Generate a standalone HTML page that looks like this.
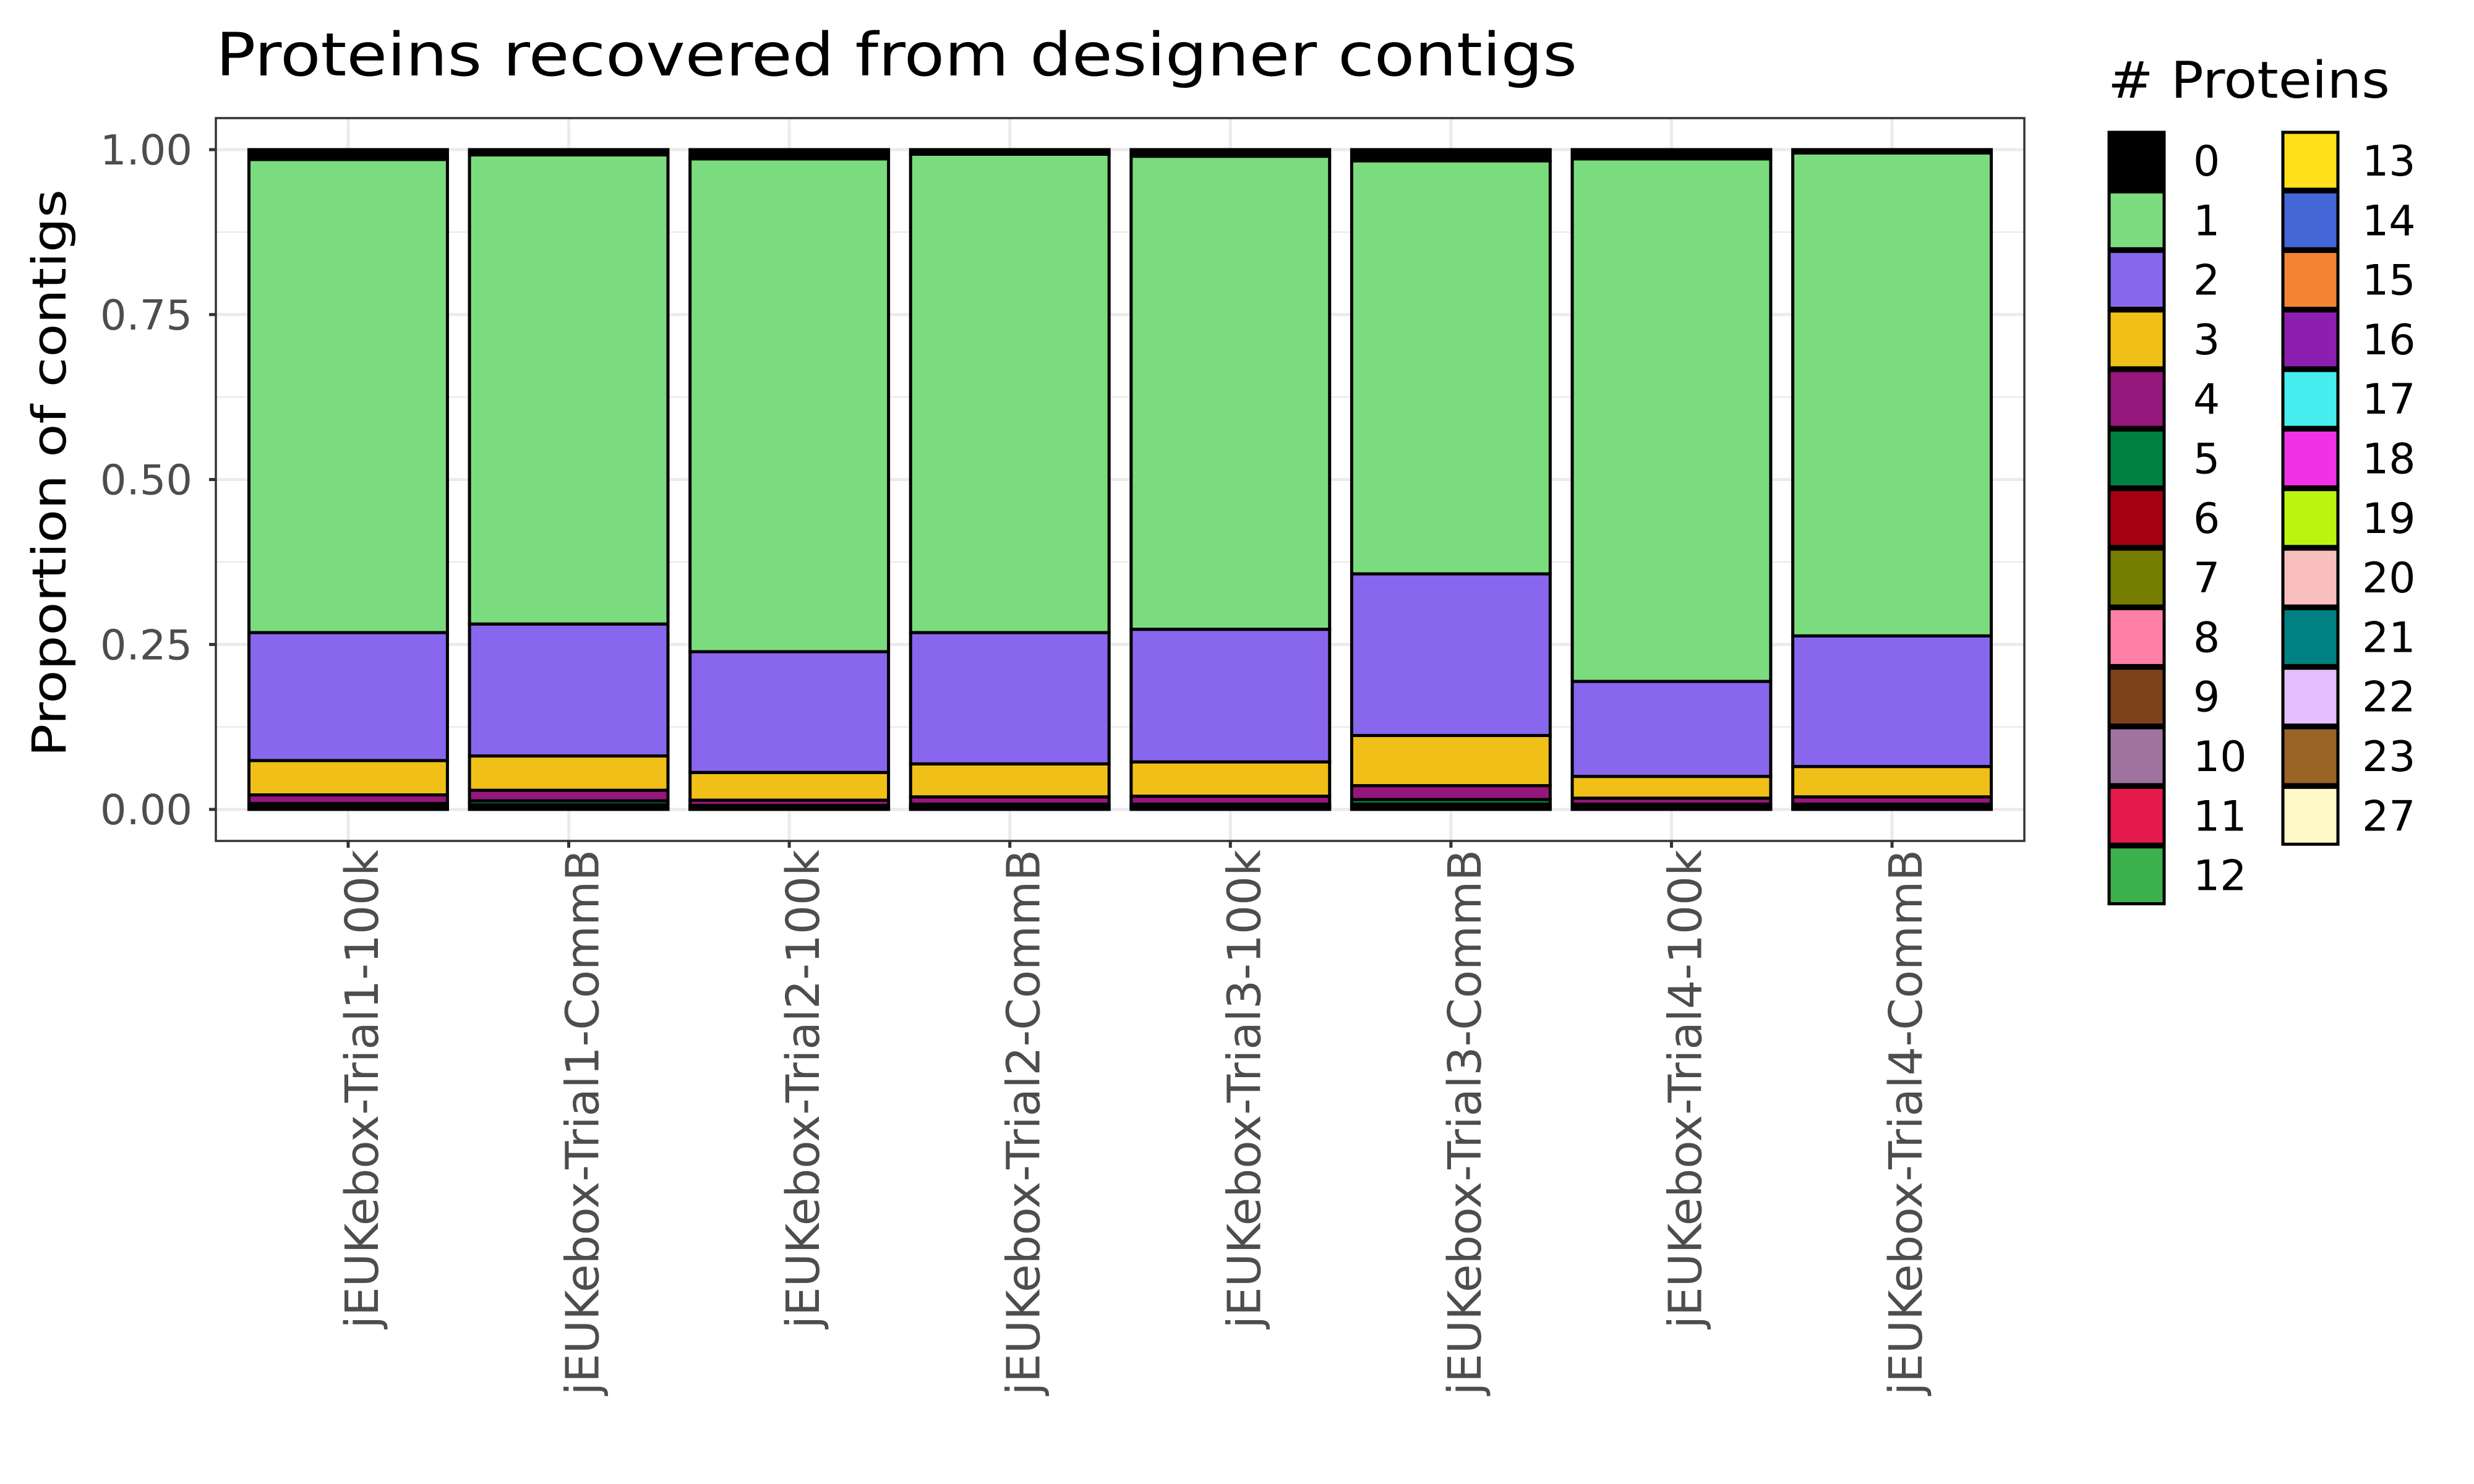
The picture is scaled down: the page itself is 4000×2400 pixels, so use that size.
<!DOCTYPE html>
<html><head><meta charset="utf-8"><style>
html,body{margin:0;padding:0;background:#fff;}
svg{display:block;font-family:"DejaVu Sans","Liberation Sans",sans-serif;}
</style></head><body>
<svg id="chart" width="4000" height="2400" viewBox="0 0 4000 2400" xmlns="http://www.w3.org/2000/svg">
<rect x="0" y="0" width="4000" height="2400" fill="#fff"/>
<text x="349" y="122" font-size="96" fill="#000" textLength="2201" lengthAdjust="spacingAndGlyphs">Proteins recovered from designer contigs</text>
<text transform="translate(106,765) rotate(-90)" text-anchor="middle" font-size="76" fill="#000" textLength="918" lengthAdjust="spacingAndGlyphs">Proportion of contigs</text>
<g id="grid"></g>
<g id="bars"></g>
<rect x="349" y="191" width="2924" height="1169" fill="none" stroke="#333333" stroke-width="3.5"/>
<g id="axes"></g>
<g id="legend">
<text x="3408" y="158" font-size="82" fill="#000" textLength="456" lengthAdjust="spacingAndGlyphs"># Proteins</text>
</g>
</svg>
<script>
const categories = ["jEUKebox-Trial1-100k","jEUKebox-Trial1-CommB","jEUKebox-Trial2-100k","jEUKebox-Trial2-CommB","jEUKebox-Trial3-100k","jEUKebox-Trial3-CommB","jEUKebox-Trial4-100k","jEUKebox-Trial4-CommB"];
const levels = ["0","1","2","3","4","5","6","7"];
const s0 = [0.015,0.008,0.014,0.007,0.010,0.017,0.014,0.005];
const s1 = [0.717,0.711,0.747,0.725,0.717,0.626,0.792,0.732];
const s2 = [0.194,0.200,0.183,0.199,0.201,0.245,0.144,0.198];
const s3 = [0.052,0.052,0.042,0.050,0.052,0.076,0.033,0.046];
const s4 = [0.013,0.016,0.008,0.011,0.012,0.021,0.009,0.011];
const s5 = [0.004,0.006,0.003,0.004,0.004,0.007,0.004,0.004];
const s6 = [0.003,0.004,0.002,0.002,0.002,0.005,0.002,0.002];
const s7 = [0.002,0.003,0.001,0.002,0.002,0.003,0.002,0.002];
const series = [s0,s1,s2,s3,s4,s5,s6,s7];
const yTicks = [0,0.25,0.5,0.75,1];
const yTickLabels = ["0.00","0.25","0.50","0.75","1.00"];
const legendLabels = ["0","1","2","3","4","5","6","7","8","9","10","11","12","13","14","15","16","17","18","19","20","21","22","23","27"];
const legendColors = ["#000000","#7BDC7F","#8966EE","#F0C018","#95177C","#008040","#A50010","#767E00","#FF7FA6","#7F411B","#A0739E","#E41A4C","#3CB04C","#FFE01A","#4466D6","#F48433","#8D1FB0","#46EDEF","#F032E6","#BBF50F","#F9BFBF","#008080","#E4BEFF","#996326","#FFF9C8"];

const NS="http://www.w3.org/2000/svg";
const PL=349, PR=3273, PT=191, PB=1360;
const unit=(PR-PL)/(categories.length+0.2);
function xC(i){return PL+(0.6+i)*unit;}
function yS(v){return 1309-v*1067;}
function mk(tag,attrs,parent){const e=document.createElementNS(NS,tag);for(const k in attrs)e.setAttribute(k,attrs[k]);parent.appendChild(e);return e;}
const grid=document.getElementById('grid'), bars=document.getElementById('bars'), axes=document.getElementById('axes'), legend=document.getElementById('legend');
for(let k=0;k<yTicks.length-1;k++){
  const v=(yTicks[k]+yTicks[k+1])/2;
  const l=mk('line',{x1:PL,x2:PR,y1:yS(v),y2:yS(v),stroke:'#EBEBEB','stroke-width':2.5},grid);
  
  
}
yTicks.forEach((v,k)=>{
  const l=mk('line',{x1:PL,x2:PR,y1:yS(v),y2:yS(v),stroke:'#EBEBEB','stroke-width':5},grid);
  
  
  const t=mk('line',{x1:PL-11,x2:PL,y1:yS(v),y2:yS(v),stroke:'#333333','stroke-width':5},axes);
  
  
  const tx=mk('text',{x:PL-38,y:yS(v)+24,'text-anchor':'end','font-size':67,fill:'#4D4D4D'},axes);
  tx.textContent=yTickLabels[k];
  
  
});
categories.forEach((c,i)=>{
  const x=xC(i);
  const l=mk('line',{x1:x,x2:x,y1:PT,y2:PB,stroke:'#EBEBEB','stroke-width':5},grid);
  
  
  const t=mk('line',{x1:x,x2:x,y1:PB,y2:PB+11,stroke:'#333333','stroke-width':5},axes);
  
  
  const tx=mk('text',{transform:'translate('+(x+48)+','+(PB+14)+') rotate(-90)','text-anchor':'end','font-size':74,fill:'#4D4D4D'},axes);
  tx.textContent=c;
  
  
  const bw=unit*0.9;
  let cum=0;
  for(let s=series.length-1;s>=0;s--){
    const v=series[s][i];
    const y0=yS(cum), y1=yS(cum+v);
    const r=mk('rect',{x:x-bw/2,y:y1,width:bw,height:Math.max(0,y0-y1),fill:legendColors[s],stroke:'#000','stroke-width':5},bars);
    
    
    cum+=v;
  }
});
legendLabels.forEach((lab,k)=>{
  const col=k<13?0:1, row=k<13?k:k-13;
  const kx=col?3689:3408, ky=212+row*96.3;
  const r=mk('rect',{x:kx+2,y:ky+2,width:89,height:92,fill:legendColors[k],stroke:'#000','stroke-width':5},legend);
  
  
  const t=mk('text',{x:col?3819:3546,y:ky+72,'font-size':68,fill:'#000'},legend);
  t.textContent=lab;
  
  
});
</script>
</body></html>
